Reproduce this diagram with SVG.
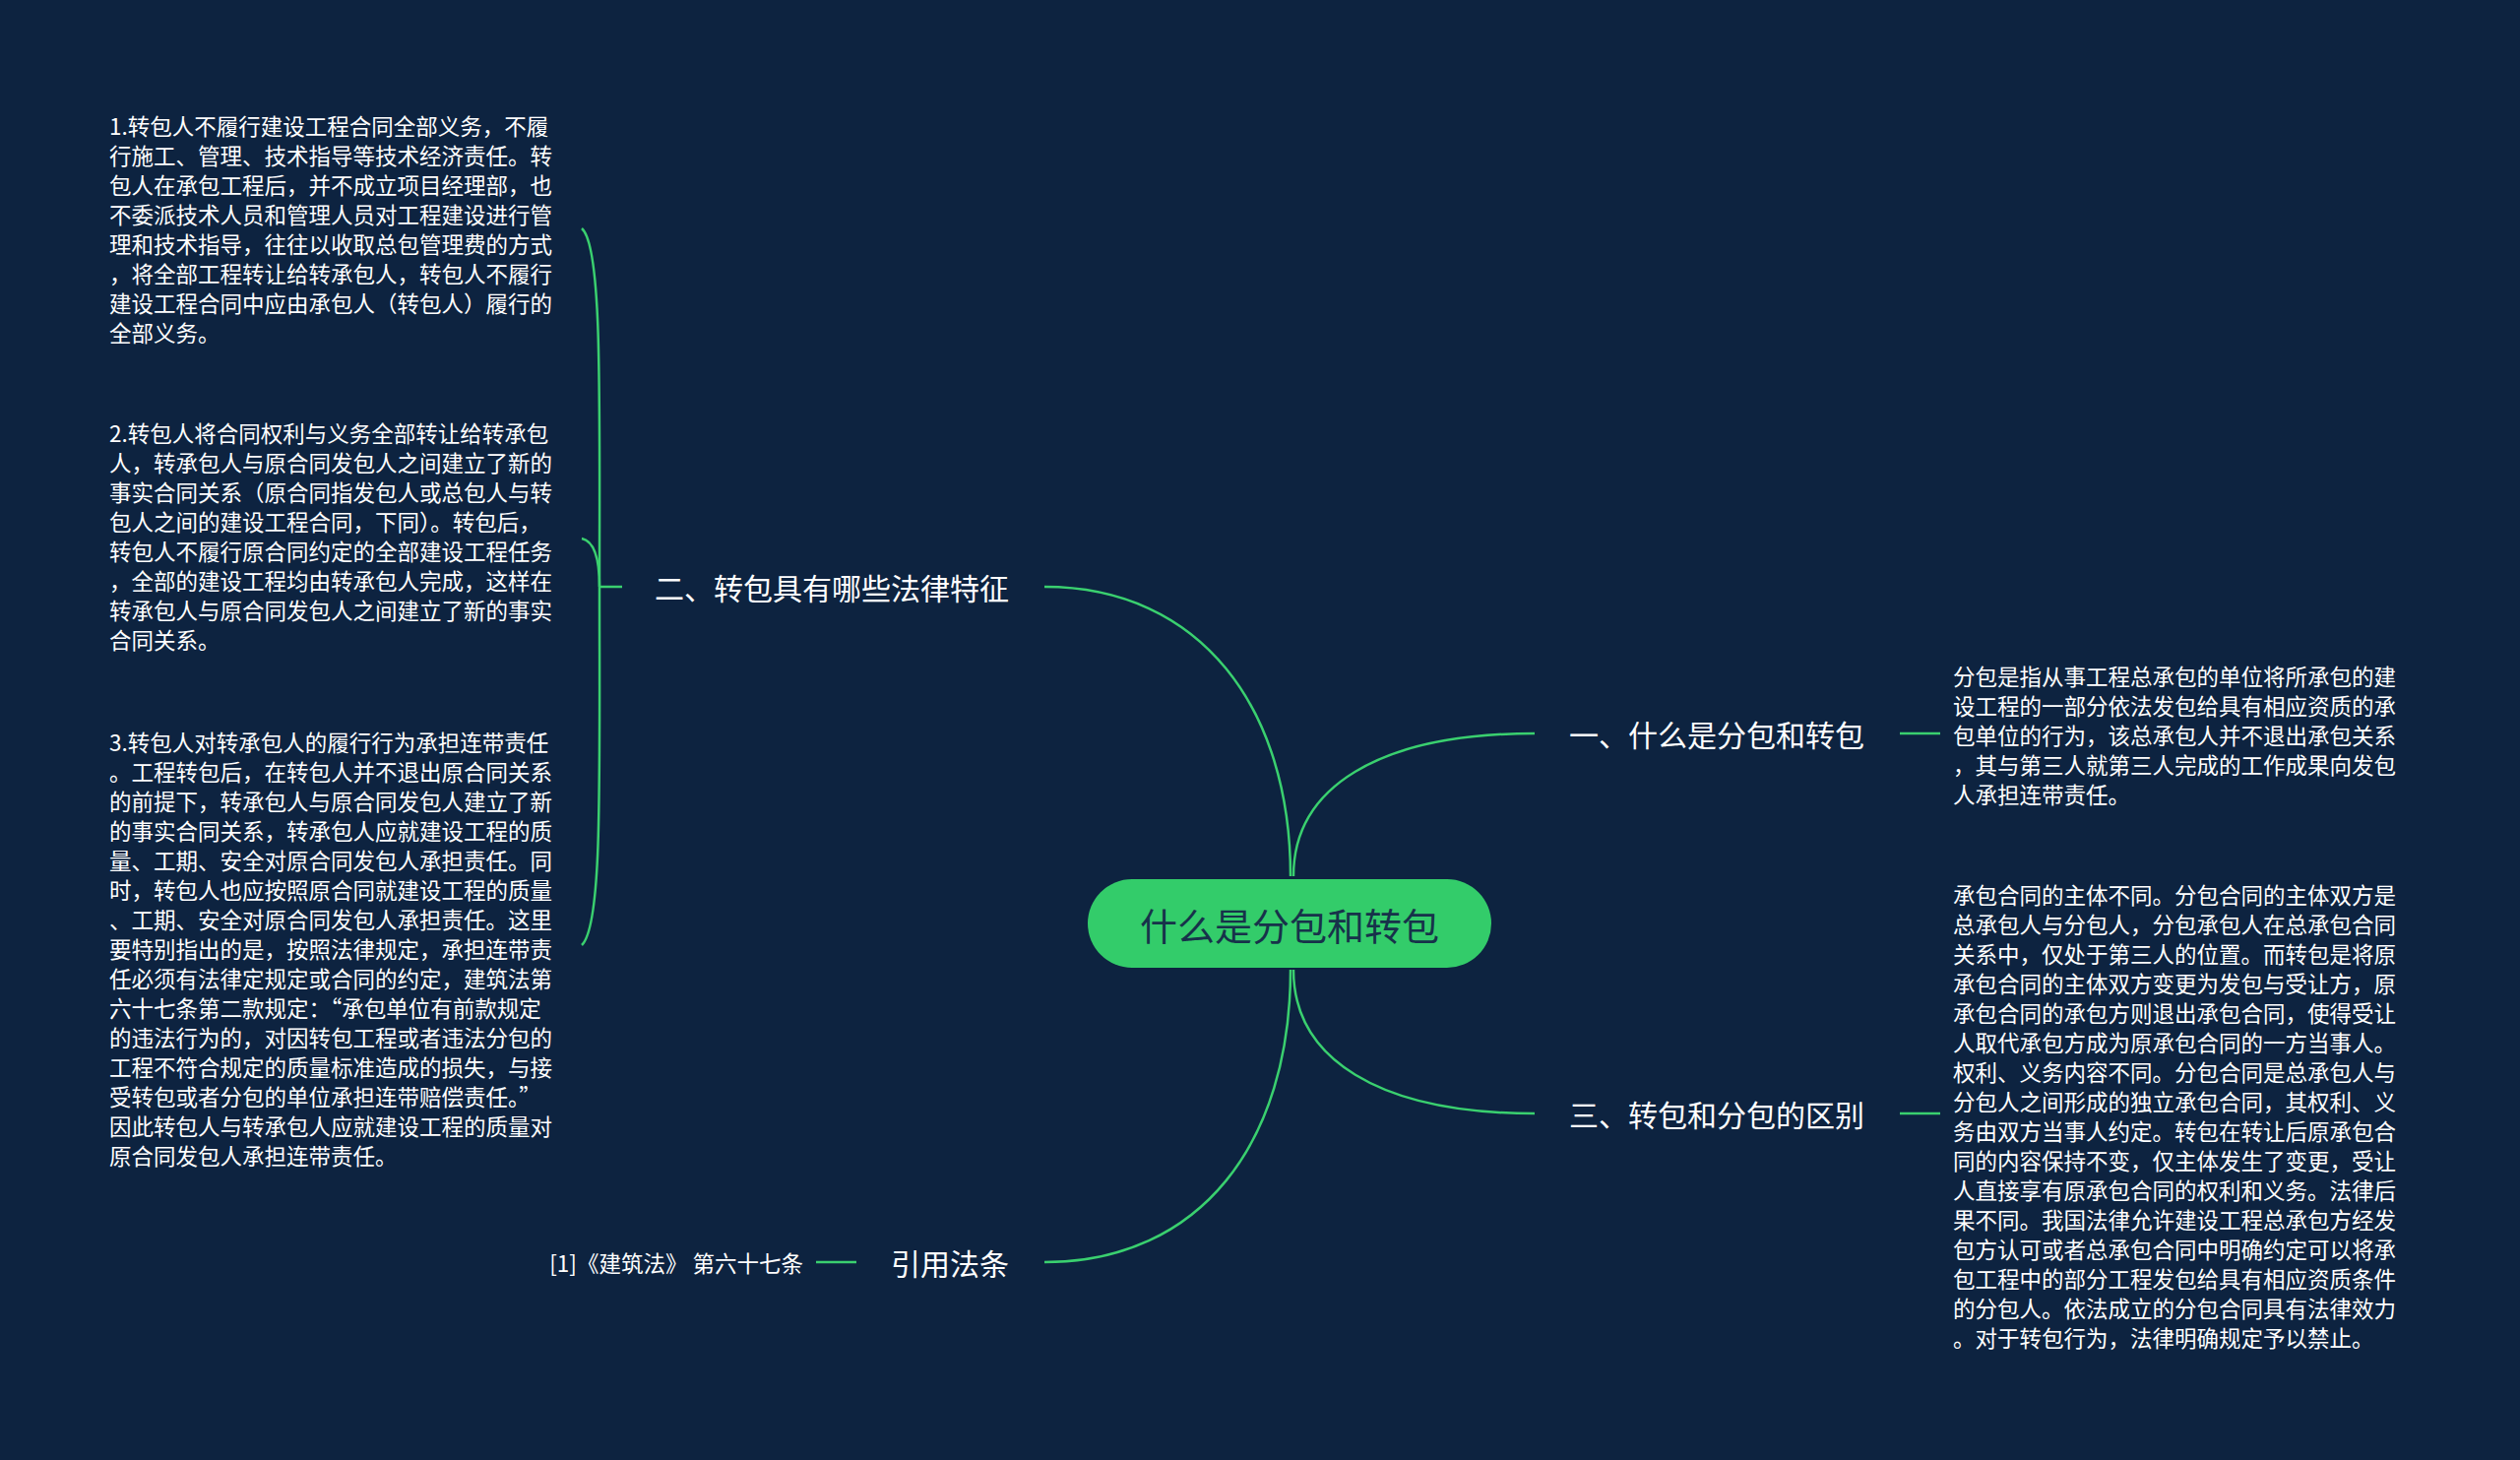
<svg xmlns="http://www.w3.org/2000/svg" width="2560" height="1483" viewBox="0 0 2560 1483">
<style>
.bg{fill:#0d2340}
.ln{fill:none;stroke:#3ad06f;stroke-width:2.5}
.br{font-family:"Noto Sans CJK SC","Noto Sans",sans-serif;font-size:30px;fill:#ffffff;dominant-baseline:central}
.lf{font-family:"Noto Sans CJK SC","Noto Sans",sans-serif;font-size:22.5px;fill:#ffffff;dominant-baseline:central}
.ct{font-family:"Noto Sans CJK SC","Noto Sans",sans-serif;font-size:38px;fill:#17324a;dominant-baseline:central;text-anchor:middle}
</style>
<rect class="bg" width="2560" height="1483"/>
<g id="connectors">
<path class="ln" d="M1311,890 C1311,720 1220,596 1061,596"/>
<path class="ln" d="M1314,890 C1314,800 1400,745 1559,745"/>
<path class="ln" d="M1314,985 C1314,1075 1400,1131 1559,1131"/>
<path class="ln" d="M1311,985 C1311,1160 1220,1282 1061,1282"/>
<path class="ln" d="M1930,745 H1971"/>
<path class="ln" d="M1930,1131 H1971"/>
<path class="ln" d="M829,1282 H870"/>
<path class="ln" d="M609,596 H632"/>
<path class="ln" d="M609,596 C609,400 612,250 591,232"/>
<path class="ln" d="M609,596 C609,570 605,550 591,547"/>
<path class="ln" d="M609,596 C609,800 612,940 591,960"/>
</g>
<g id="center">
<rect x="1105" y="893" width="410" height="90" rx="45" fill="#33cc6a"/>
<text class="ct" x="1310" y="938">什么是分包和转包</text>
</g>
<g id="b2"><text class="br" x="1025" y="596" text-anchor="end">二、转包具有哪些法律特征</text></g>
<g id="b1"><text class="br" x="1594" y="745">一、什么是分包和转包</text></g>
<g id="b3"><text class="br" x="1594" y="1131">三、转包和分包的区别</text></g>
<g id="b4"><text class="br" x="1025" y="1282" text-anchor="end">引用法条</text></g>
<g id="cite"><text class="lf" x="816" y="1282" text-anchor="end">[1]《建筑法》 第六十七条</text></g>
<g id="leaf1">
<text class="lf" x="1984" y="686">分包是指从事工程总承包的单位将所承包的建</text>
<text class="lf" x="1984" y="716">设工程的一部分依法发包给具有相应资质的承</text>
<text class="lf" x="1984" y="746">包单位的行为，该总承包人并不退出承包关系</text>
<text class="lf" x="1984" y="776">，其与第三人就第三人完成的工作成果向发包</text>
<text class="lf" x="1984" y="806">人承担连带责任。</text>
</g>
<g id="leaf3">
<text class="lf" x="1984" y="908">承包合同的主体不同。分包合同的主体双方是</text>
<text class="lf" x="1984" y="938">总承包人与分包人，分包承包人在总承包合同</text>
<text class="lf" x="1984" y="968">关系中，仅处于第三人的位置。而转包是将原</text>
<text class="lf" x="1984" y="998">承包合同的主体双方变更为发包与受让方，原</text>
<text class="lf" x="1984" y="1028">承包合同的承包方则退出承包合同，使得受让</text>
<text class="lf" x="1984" y="1058">人取代承包方成为原承包合同的一方当事人。</text>
<text class="lf" x="1984" y="1088">权利、义务内容不同。分包合同是总承包人与</text>
<text class="lf" x="1984" y="1118">分包人之间形成的独立承包合同，其权利、义</text>
<text class="lf" x="1984" y="1148">务由双方当事人约定。转包在转让后原承包合</text>
<text class="lf" x="1984" y="1178">同的内容保持不变，仅主体发生了变更，受让</text>
<text class="lf" x="1984" y="1208">人直接享有原承包合同的权利和义务。法律后</text>
<text class="lf" x="1984" y="1238">果不同。我国法律允许建设工程总承包方经发</text>
<text class="lf" x="1984" y="1268">包方认可或者总承包合同中明确约定可以将承</text>
<text class="lf" x="1984" y="1298">包工程中的部分工程发包给具有相应资质条件</text>
<text class="lf" x="1984" y="1328">的分包人。依法成立的分包合同具有法律效力</text>
<text class="lf" x="1984" y="1358">。对于转包行为，法律明确规定予以禁止。</text>
</g>
<g id="leaf2a">
<text class="lf" x="111" y="127">1.转包人不履行建设工程合同全部义务，不履</text>
<text class="lf" x="111" y="157">行施工、管理、技术指导等技术经济责任。转</text>
<text class="lf" x="111" y="187">包人在承包工程后，并不成立项目经理部，也</text>
<text class="lf" x="111" y="217">不委派技术人员和管理人员对工程建设进行管</text>
<text class="lf" x="111" y="247">理和技术指导，往往以收取总包管理费的方式</text>
<text class="lf" x="111" y="277">，将全部工程转让给转承包人，转包人不履行</text>
<text class="lf" x="111" y="307">建设工程合同中应由承包人（转包人）履行的</text>
<text class="lf" x="111" y="337">全部义务。</text>
</g>
<g id="leaf2b">
<text class="lf" x="111" y="439">2.转包人将合同权利与义务全部转让给转承包</text>
<text class="lf" x="111" y="469">人，转承包人与原合同发包人之间建立了新的</text>
<text class="lf" x="111" y="499">事实合同关系（原合同指发包人或总包人与转</text>
<text class="lf" x="111" y="529">包人之间的建设工程合同，下同）。转包后，</text>
<text class="lf" x="111" y="559">转包人不履行原合同约定的全部建设工程任务</text>
<text class="lf" x="111" y="589">，全部的建设工程均由转承包人完成，这样在</text>
<text class="lf" x="111" y="619">转承包人与原合同发包人之间建立了新的事实</text>
<text class="lf" x="111" y="649">合同关系。</text>
</g>
<g id="leaf2c">
<text class="lf" x="111" y="753">3.转包人对转承包人的履行行为承担连带责任</text>
<text class="lf" x="111" y="783">。工程转包后，在转包人并不退出原合同关系</text>
<text class="lf" x="111" y="813">的前提下，转承包人与原合同发包人建立了新</text>
<text class="lf" x="111" y="843">的事实合同关系，转承包人应就建设工程的质</text>
<text class="lf" x="111" y="873">量、工期、安全对原合同发包人承担责任。同</text>
<text class="lf" x="111" y="903">时，转包人也应按照原合同就建设工程的质量</text>
<text class="lf" x="111" y="933">、工期、安全对原合同发包人承担责任。这里</text>
<text class="lf" x="111" y="963">要特别指出的是，按照法律规定，承担连带责</text>
<text class="lf" x="111" y="993">任必须有法律定规定或合同的约定，建筑法第</text>
<text class="lf" x="111" y="1023">六十七条第二款规定：“承包单位有前款规定</text>
<text class="lf" x="111" y="1053">的违法行为的，对因转包工程或者违法分包的</text>
<text class="lf" x="111" y="1083">工程不符合规定的质量标准造成的损失，与接</text>
<text class="lf" x="111" y="1113">受转包或者分包的单位承担连带赔偿责任。”</text>
<text class="lf" x="111" y="1143">因此转包人与转承包人应就建设工程的质量对</text>
<text class="lf" x="111" y="1173">原合同发包人承担连带责任。</text>
</g>
</svg>
